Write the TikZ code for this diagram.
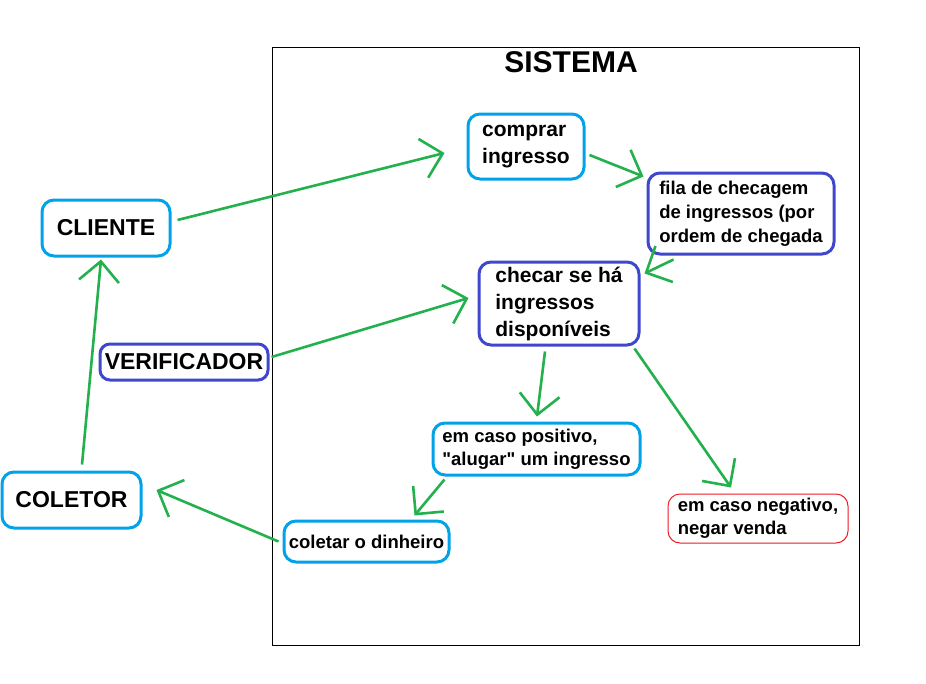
\documentclass[tikz,border=0pt]{standalone}
\usepackage{fontspec}
\setmainfont{Liberation Sans}
\usetikzlibrary{arrows.meta,positioning}
\definecolor{paintCyan}{RGB}{0, 162, 232}
\definecolor{paintBlue}{RGB}{63, 72, 204}
\definecolor{paintRed}{RGB}{237, 28, 36}
\definecolor{paintGreen}{RGB}{34, 177, 76}
\tikzset{
    cyanbox/.style={draw=paintCyan,line width=3pt,rounded corners=12pt,inner sep=0pt,align=left,font=\bfseries},
    bluebox/.style={draw=paintBlue,line width=3pt,rounded corners=12pt,inner sep=0pt,align=left,font=\bfseries},
    redbox/.style={draw=paintRed,line width=1pt,rounded corners=12pt,inner sep=0pt,align=left,font=\bfseries},
    flow/.style={paintGreen,line width=2.6pt,-{Straight Barb[length=20pt,width=40pt,line width=2.6pt]}}
}
\begin{document}
\begin{tikzpicture}[x=1pt,y=-1pt]
    \fill[white] (0,0) rectangle (926,683);
    \useasboundingbox (0,0) rectangle (926,683);

    % System frame
    \draw[line width=1pt] (272,47) rectangle (859,645);
    \node[font=\fontsize{30}{34}\selectfont\bfseries] (sistema) at (571,62) {SISTEMA};

    % Actors
    \node[cyanbox,minimum width=128pt,minimum height=56pt,font=\fontsize{23}{26}\selectfont\bfseries] (cliente) at (106,228) {CLIENTE};
    \node[bluebox,minimum width=168pt,minimum height=36pt,rounded corners=10pt,font=\fontsize{23}{26}\selectfont\bfseries] (verificador) at (184,362) {VERIFICADOR};
    \node[cyanbox,minimum width=139pt,minimum height=56pt,font=\fontsize{23}{26}\selectfont\bfseries] (coletor) at (71.5,500) {COLETOR};

    % Steps inside the system
    \node[cyanbox,minimum width=116pt,minimum height=65pt,font=\fontsize{21}{27}\selectfont\bfseries] (comprar) at (526,146.5) {comprar\\ingresso};
    \node[bluebox,minimum width=186pt,minimum height=81pt,font=\fontsize{18.5}{24}\selectfont\bfseries] (fila) at (741,213.5) {fila de checagem\\de ingressos (por\\ordem de chegada};
    \node[bluebox,minimum width=160pt,minimum height=83pt,font=\fontsize{21}{27}\selectfont\bfseries] (checar) at (559,303.5) {checar se há\\ingressos\\disponíveis};
    \node[cyanbox,minimum width=207pt,minimum height=52pt,font=\fontsize{18.5}{23}\selectfont\bfseries] (positivo) at (536.5,449) {em caso positivo,\\\textquotedbl alugar\textquotedbl{} um ingresso};
    \node[cyanbox,minimum width=165pt,minimum height=41pt,font=\fontsize{18.5}{23}\selectfont\bfseries] (coletar) at (366.5,541.5) {coletar o dinheiro};
    \node[redbox,minimum width=180pt,minimum height=49pt,font=\fontsize{18.5}{23}\selectfont\bfseries] (negativo) at (758,518.5) {em caso negativo,\\negar venda};

    % Flow arrows
    \draw[flow] ([xshift=6pt,yshift=8pt]cliente.east) -- ([xshift=-22pt,yshift=-6.5pt]comprar.west);
    \draw[flow] ([xshift=4pt,yshift=-8.5pt]comprar.east) -- ([xshift=-3pt,yshift=-5pt]fila.north west);
    \draw[flow] ([xshift=27pt,yshift=-4pt]fila.south west) -- ([xshift=4pt,yshift=-13pt]checar.north east);
    \draw[flow] ([xshift=2pt,yshift=5pt]verificador.east) -- ([xshift=-9pt,yshift=5.5pt]checar.west);
    \draw[flow] ([xshift=-14pt,yshift=-5pt]checar.south) -- ([xshift=0.5pt,yshift=5pt]positivo.north);
    \draw[flow] ([xshift=-6pt,yshift=-2pt]checar.south east) -- ([xshift=-27pt,yshift=6pt]negativo.north);
    \draw[flow] ([xshift=13pt,yshift=-3pt]positivo.south west) -- ([xshift=-36pt,yshift=4pt]coletar.north east);
    \draw[flow] ([xshift=-4pt]coletar.west) -- ([xshift=14pt,yshift=10pt]coletor.east);
    \draw[flow] ([xshift=10.5pt,yshift=6pt]coletor.north) -- ([xshift=-5pt,yshift=-2pt]cliente.south);
\end{tikzpicture}
\end{document}
